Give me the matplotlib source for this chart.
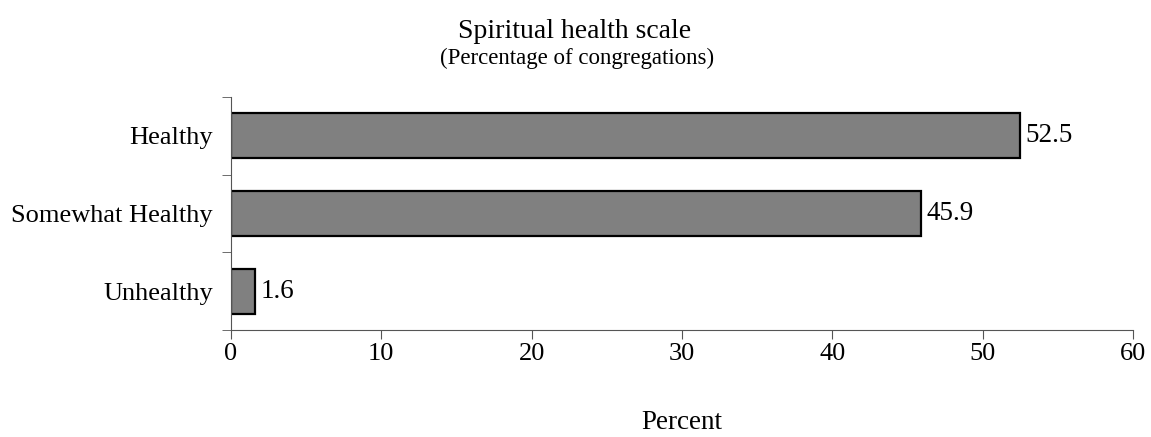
import matplotlib.pyplot as plt
import numpy as np

categories = ['Healthy', 'Somewhat Healthy', 'Unhealthy']
values = [52.5, 45.9, 1.6]
xticks = [0, 10, 20, 30, 40, 50, 60]

plt.rcParams['font.family'] = ['Liberation Serif', 'DejaVu Serif']

fig = plt.figure(figsize=(11.51, 4.37), dpi=100)
ax = fig.add_axes([0.2007, 0.2449, 0.7837, 0.5331])

y = np.arange(len(categories))[::-1]
ax.barh(y, values, height=0.58, color='#808080', edgecolor='black', linewidth=1.6)

for yi, v in zip(y, values):
    ax.text(v + 0.35, yi, f'{v}', va='center', ha='left', fontsize=19.5)

ax.set_xlim(0, 60)
ax.set_ylim(-0.5, 2.5)
ax.set_xticks(xticks)
ax.set_xticklabels([str(t) for t in xticks], fontsize=19)
ax.set_yticks(y)
ax.set_yticklabels(categories, fontsize=19)
ax.tick_params(axis='y', which='major', length=0, pad=13)
ax.set_yticks([-0.5, 0.5, 1.5, 2.5], minor=True)
ax.tick_params(axis='y', which='minor', length=6.5, color='#555555')
ax.tick_params(axis='x', length=6.5, color='#555555', pad=3)

for s in ['top', 'right']:
    ax.spines[s].set_visible(False)
for s in ['left', 'bottom']:
    ax.spines[s].set_color('#555555')

ax.set_xlabel('Percent', fontsize=19.5, labelpad=32)
fig.text(0.499, 0.927, 'Spiritual health scale', ha='center', va='center', fontsize=20)
fig.text(0.501, 0.867, '(Percentage of congregations)', ha='center', va='center', fontsize=16.5)

fig.savefig('out.png', dpi=100)
